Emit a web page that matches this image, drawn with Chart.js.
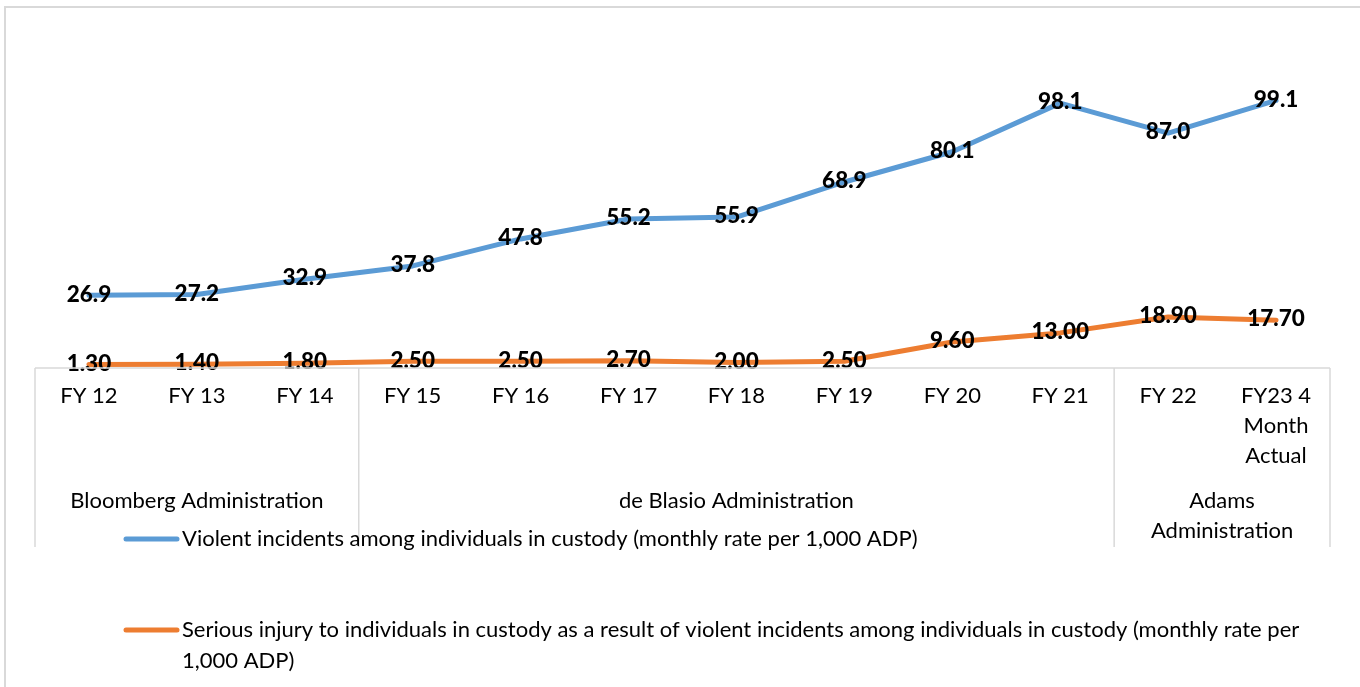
<!DOCTYPE html>
<html>
<head>
<meta charset="utf-8">
<script src="https://cdn.jsdelivr.net/npm/chart.js@4"></script>
<style>
  html,body{margin:0;padding:0;background:#fff;}
  #wrap{width:1360px;height:687px;position:relative;}
</style>
</head>
<body>
<div id="wrap"><canvas id="c" width="1360" height="687"></canvas></div>
<script>
// categories + values
const categories = ['FY 12','FY 13','FY 14','FY 15','FY 16','FY 17','FY 18','FY 19','FY 20','FY 21','FY 22',['FY23 4','Month','Actual']];
const violent = [26.9,27.2,32.9,37.8,47.8,55.2,55.9,68.9,80.1,98.1,87.0,99.1];
const injury = [1.3,1.4,1.8,2.5,2.5,2.7,2.0,2.5,9.6,13.0,18.9,17.7];
const groups = [
  {label:['Bloomberg Administration'], from:0, to:2},
  {label:['de Blasio Administration'], from:3, to:9},
  {label:['Adams','Administration'], from:10, to:11}
];
const seriesNames = [
  'Violent incidents among individuals in custody (monthly rate per 1,000 ADP)',
  'Serious injury to individuals in custody as a result of violent incidents among individuals in custody (monthly rate per 1,000 ADP)'
];
const BLUE='#5B9BD5', ORANGE='#ED7D31';
const FONT = 'Lato, "Open Sans", sans-serif';

// data labels on each point
const valueLabels = {
  id:'valueLabels',
  afterDatasetsDraw(chart){
    const ctx = chart.ctx;
    ctx.save();
    ctx.fillStyle='#000';
    ctx.font='900 22.5px '+FONT;
    ctx.textAlign='center'; ctx.textBaseline='middle';
    chart.data.datasets.forEach((ds,di)=>{
      const meta = chart.getDatasetMeta(di);
      meta.data.forEach((pt,i)=>{
        const txt = di===0 ? ds.data[i].toFixed(1) : ds.data[i].toFixed(2);
        ctx.fillText(txt, pt.x, pt.y-1);
      });
    });
    ctx.restore();
  }
};

// category axis with administration boxes + legend underneath
const axisBoxes = {
  id:'axisBoxes',
  beforeDraw(chart){
    const ctx = chart.ctx;
    ctx.save();
    // outer frame
    ctx.strokeStyle='#d9d9d9'; ctx.lineWidth=2;
    ctx.strokeRect(5,7,1400,700);
    ctx.restore();
  },
  afterDraw(chart){
    const {ctx, chartArea:{left,right,bottom}} = chart;
    const x = chart.scales.x;
    const step = x.getPixelForValue(1)-x.getPixelForValue(0);
    const boxBottom = bottom+179;
    ctx.save();
    ctx.strokeStyle='#d9d9d9'; ctx.lineWidth=1.5;
    ctx.beginPath();
    ctx.moveTo(left,bottom); ctx.lineTo(right,bottom);
    const edges=[left];
    groups.forEach(g=>edges.push(x.getPixelForValue(g.to)+step/2));
    edges.forEach(e=>{ctx.moveTo(e,bottom); ctx.lineTo(e,boxBottom);});
    ctx.stroke();

    ctx.fillStyle='#000';
    ctx.font='22px '+FONT;
    ctx.textAlign='center'; ctx.textBaseline='middle';
    categories.forEach((c,i)=>{
      const lines = Array.isArray(c)?c:[c];
      lines.forEach((l,k)=>ctx.fillText(l, x.getPixelForValue(i), bottom+28+k*30));
    });
    groups.forEach(g=>{
      const cx=(x.getPixelForValue(g.from)+x.getPixelForValue(g.to))/2;
      g.label.forEach((l,k)=>ctx.fillText(l, cx, bottom+133+k*30));
    });

    // legend
    const colors=[BLUE,ORANGE];
    const rows=[bottom+171, bottom+262];
    ctx.textAlign='left';
    const tx=182, maxW=right-tx;
    seriesNames.forEach((name,i)=>{
      const y=rows[i];
      ctx.strokeStyle=colors[i]; ctx.lineWidth=5; ctx.lineCap='round';
      ctx.beginPath(); ctx.moveTo(126,y); ctx.lineTo(177,y); ctx.stroke();
      const words=name.split(' '); let line=''; let ly=y;
      words.forEach(w=>{
        const test=line?line+' '+w:w;
        if(ctx.measureText(test).width>maxW && line){ ctx.fillText(line,tx,ly); line=w; ly+=31; }
        else line=test;
      });
      ctx.fillText(line,tx,ly);
    });
    ctx.restore();
  }
};

new Chart(document.getElementById('c'),{
  type:'line',
  data:{
    labels:categories,
    datasets:[
      {label:seriesNames[0], data:violent, borderColor:BLUE, borderWidth:5, pointRadius:0, borderCapStyle:'round', borderJoinStyle:'round', tension:0},
      {label:seriesNames[1], data:injury, borderColor:ORANGE, borderWidth:5, pointRadius:0, borderCapStyle:'round', borderJoinStyle:'round', tension:0}
    ]
  },
  options:{
    responsive:false, animation:false,
    layout:{padding:{left:35,right:30,top:44,bottom:319}},
    scales:{
      x:{display:false, offset:true},
      y:{display:false, min:0, max:120}
    },
    plugins:{legend:{display:false}, tooltip:{enabled:false}}
  },
  plugins:[axisBoxes, valueLabels]
});
</script>
</body>
</html>
